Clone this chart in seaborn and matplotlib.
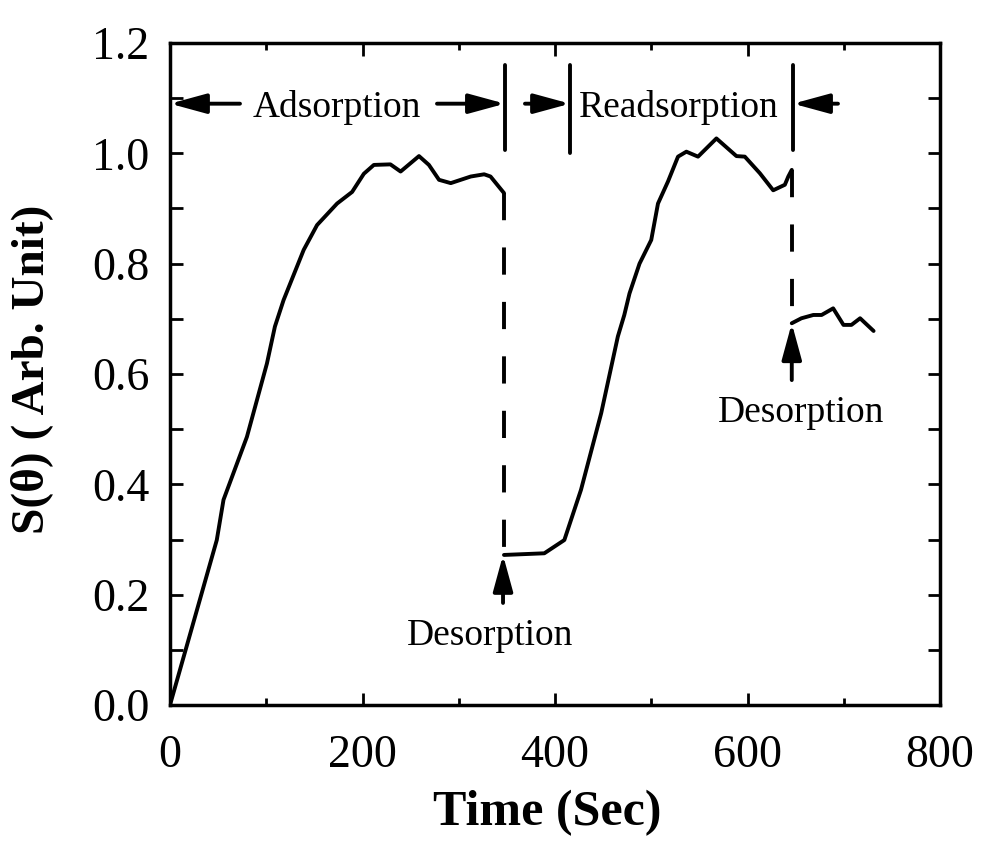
import numpy as np
import pandas as pd
import matplotlib
matplotlib.use("Agg")
import matplotlib.pyplot as plt
from matplotlib.ticker import MultipleLocator
import seaborn as sns

# ---- data ----
ads_time = [0, 48.6, 55.6, 79.9, 100.7, 109, 118, 138.9, 152.8, 173.6, 189.2, 201.4,
            211.8, 229, 239.6, 258.7, 269, 279.5, 291.7, 312.5, 326.4, 333, 347]
ads_signal = [0.0, 0.299, 0.372, 0.486, 0.619, 0.686, 0.734, 0.825, 0.870, 0.909, 0.930, 0.963,
              0.979, 0.980, 0.967, 0.995, 0.979, 0.952, 0.946, 0.958, 0.962, 0.958, 0.928]

read_time = [347, 388.9, 409.7, 427, 448, 465.3, 472, 477.4, 487.8, 500, 507, 517.4,
             527.8, 536.5, 548.6, 567.7, 588.5, 597.2, 612.8, 626.7, 638.8, 642.4, 646]
read_signal = [0.272, 0.275, 0.299, 0.390, 0.529, 0.668, 0.707, 0.746, 0.800, 0.843, 0.909, 0.949,
               0.994, 1.003, 0.994, 1.027, 0.995, 0.994, 0.964, 0.933, 0.943, 0.958, 0.970]

des_time = [646, 656, 668.4, 677, 689, 699.7, 708, 717, 731]
des_signal = [0.692, 0.701, 0.707, 0.707, 0.719, 0.689, 0.689, 0.701, 0.678]

x_ticks = [0, 200, 400, 600, 800]
y_ticks = [0.0, 0.2, 0.4, 0.6, 0.8, 1.0, 1.2]
y_tick_labels = ["0.0", "0.2", "0.4", "0.6", "0.8", "1.0", "1.2"]

# phase labels and bracket markers
phase_labels = ["Adsorption", "Readsorption"]
phase_label_x = [173.5, 529]
bracket_x = [348, 415.6, 647.3]
desorption_label_x = [332.5, 655.6]
desorption_label_y = [0.125, 0.529]

# ---- figure ----
sns.set_theme(style="ticks")
plt.rcParams["font.family"] = ["Liberation Serif", "DejaVu Serif"]
plt.rcParams["text.color"] = "black"
plt.rcParams["axes.labelcolor"] = "black"

fig = plt.figure(figsize=(9.86, 8.46), dpi=100)
ax = fig.add_axes([170 / 986, 1 - 705 / 846, 770 / 986, 662 / 846])

lw = 2.8
segments = []
for name, t, s in [("ads", ads_time, ads_signal), ("read", read_time, read_signal),
                   ("des", des_time, des_signal)]:
    segments.append(pd.DataFrame({"time": t, "signal": s, "segment": name}))
df = pd.concat(segments, ignore_index=True)
for name, sub in df.groupby("segment", sort=False):
    sns.lineplot(data=sub, x="time", y="signal", sort=False, color="black",
                 lw=lw, ax=ax, legend=False, estimator=None)

# dashed drops at the desorption events
dash = (0, (7, 7))
ax.plot([ads_time[-1], read_time[0]], [ads_signal[-1], read_signal[0]],
        color="black", lw=lw, linestyle=dash)
ax.plot([read_time[-1], des_time[0]], [read_signal[-1], des_signal[0]],
        color="black", lw=lw, linestyle=dash)

# bracket vertical markers
bracket_bottom = [1.006, 1.0, 1.006]
for bx, bb in zip(bracket_x, bracket_bottom):
    ax.plot([bx, bx], [bb, 1.16], color="black", lw=lw)

ann_fs = 27
arrow_y = 1.09
aprops = dict(arrowstyle="-|>,head_length=1.1,head_width=0.3", mutation_scale=20,
              color="black", lw=lw, shrinkA=0, shrinkB=0)

ax.text(phase_label_x[0], 1.083, phase_labels[0], ha="center", va="center", fontsize=ann_fs)
ax.text(phase_label_x[1], 1.083, phase_labels[1], ha="center", va="center", fontsize=ann_fs)

ax.annotate("", xy=(0, arrow_y), xytext=(72.7, arrow_y), arrowprops=aprops)
ax.annotate("", xy=(bracket_x[0], arrow_y), xytext=(277.4, arrow_y), arrowprops=aprops)
ax.annotate("", xy=(bracket_x[1], arrow_y), xytext=(368.8, arrow_y), arrowprops=aprops)
ax.annotate("", xy=(bracket_x[2], arrow_y), xytext=(694, arrow_y), arrowprops=aprops)

# desorption arrows
ax.annotate("", xy=(read_time[0] - 1, read_signal[0]), xytext=(read_time[0] - 1, 0.185),
            arrowprops=aprops)
ax.annotate("", xy=(des_time[0], des_signal[0]), xytext=(des_time[0], 0.589),
            arrowprops=aprops)
for lx, ly in zip(desorption_label_x, desorption_label_y):
    ax.text(lx, ly, "Desorption", ha="center", va="center", fontsize=ann_fs)

# axes styling
ax.set_xlim(0, 800)
ax.set_ylim(0, 1.2)
ax.set_xticks(x_ticks)
ax.set_yticks(y_ticks)
ax.set_yticklabels(y_tick_labels)
ax.xaxis.set_minor_locator(MultipleLocator(100))
ax.yaxis.set_minor_locator(MultipleLocator(0.1))
ax.tick_params(which="both", direction="in", top=True, right=True, width=2, color="black",
               labelsize=33, labelcolor="black")
ax.tick_params(axis="x", which="major", length=9, pad=21)
ax.tick_params(axis="x", which="minor", length=5)
ax.tick_params(axis="y", which="both", length=9, pad=15)
for sp in ax.spines.values():
    sp.set_linewidth(2.5)
    sp.set_color("black")

ax.set_xlabel("Time (Sec)", fontsize=36, fontweight="bold")
ax.xaxis.set_label_coords((547 - 170) / 770, -(790 - 705) / 662)
ax.xaxis.label.set_va("top")
ax.set_ylabel("S(θ) ( Arb. Unit)", fontsize=34, fontweight="bold")
ax.yaxis.set_label_coords(-(170 - 53) / 770, (705 - 369) / 662)

fig.savefig("out.png", dpi=100, facecolor="white")
